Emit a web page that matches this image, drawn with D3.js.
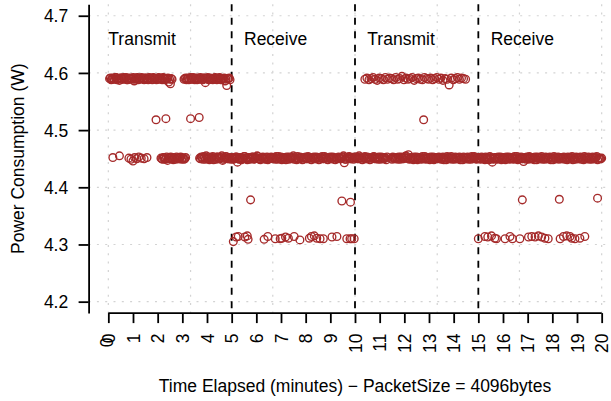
<!DOCTYPE html>
<html>
<head>
<meta charset="utf-8">
<script src="https://cdn.jsdelivr.net/npm/d3@7"></script>
<style>
  html, body { margin: 0; padding: 0; background: #fff; }
  svg { display: block; }
</style>
</head>
<body>
<svg id="chart" width="611" height="401"></svg>
<script>
// Power readings: [seconds elapsed, watts]
// Idle / baseline level (~4.45 W), even-slot samples
const idleReadings = [
  [11,4.452],[27,4.455],[50,4.451],[55,4.449],[60,4.446],[64,4.452],[69,4.450],[74,4.453],[80,4.451],[87,4.450],[94,4.452],
  [128,4.451],[132,4.449],[136,4.452],[140,4.450],[144,4.447],[148,4.451],[152,4.453],[156,4.450],[160,4.452],[164,4.449],[168,4.451],[172,4.450],[176,4.453],[180,4.451],[184,4.449],[188,4.452],
  [222,4.451],[226,4.453],[230,4.449],[234,4.452],[238,4.455],[242,4.450],[246,4.448],[250,4.452],[254,4.454],[258,4.451],[262,4.449],[266,4.453],[270,4.450],[274,4.452],[278,4.447],[282,4.451],[286,4.454],[290,4.450],[294,4.452],[298,4.449],
  [302,4.451],[306,4.450],[310,4.453],[314,4.444],[318,4.449],[322,4.452],[326,4.450],[330,4.454],[334,4.451],[338,4.448],[342,4.452],[346,4.450],[350,4.453],[354,4.449],[358,4.451],[362,4.455],[366,4.450],[370,4.448],[374,4.452],[378,4.451],[382,4.449],[386,4.453],[390,4.450],[394,4.452],[398,4.451],
  [402,4.452],[406,4.449],[410,4.451],[414,4.454],[418,4.450],[422,4.448],[426,4.452],[430,4.451],[434,4.453],[438,4.449],[442,4.450],[446,4.452],[450,4.455],[454,4.451],[458,4.448],[462,4.450],[466,4.453],[470,4.451],[474,4.449],[478,4.452],[482,4.450],[486,4.454],[490,4.451],[494,4.448],[498,4.452],
  [502,4.450],[506,4.453],[510,4.451],[514,4.449],[518,4.452],[522,4.450],[526,4.454],[530,4.451],[534,4.448],[538,4.452],[542,4.450],[546,4.453],[550,4.449],[554,4.451],[558,4.450],[562,4.452],[566,4.450],[570,4.453],[574,4.443],[578,4.449],[582,4.452],[586,4.454],[590,4.450],[594,4.451],[598,4.453],
  [602,4.452],[606,4.450],[610,4.455],[614,4.451],[618,4.448],[622,4.452],[626,4.450],[630,4.453],[634,4.451],[638,4.449],[642,4.452],[646,4.454],[650,4.450],[654,4.451],[658,4.453],[662,4.449],[666,4.452],[670,4.450],[674,4.451],[678,4.453],[690,4.449],[694,4.452],[698,4.450],
  [702,4.451],[706,4.453],[710,4.449],[714,4.452],[718,4.450],[722,4.454],[726,4.451],[730,4.457],[734,4.450],[738,4.452],[742,4.448],[746,4.451],[750,4.453],[754,4.450],[758,4.452],[762,4.449],[766,4.451],[770,4.454],[774,4.450],[778,4.452],[782,4.448],[786,4.451],[790,4.453],[794,4.450],[798,4.452],
  [802,4.450],[806,4.452],[810,4.449],[814,4.453],[818,4.451],[822,4.448],[826,4.452],[830,4.450],[834,4.454],[838,4.451],[842,4.449],[846,4.452],[850,4.450],[854,4.453],[858,4.451],[862,4.448],[866,4.452],[870,4.450],[874,4.453],[878,4.451],[882,4.449],[886,4.452],[890,4.454],[894,4.450],[898,4.451],
  [902,4.451],[906,4.449],[910,4.452],[914,4.450],[918,4.453],[922,4.451],[926,4.448],[930,4.452],[934,4.444],[938,4.450],[942,4.452],[946,4.449],[950,4.451],[954,4.453],[958,4.450],[962,4.452],[966,4.448],[970,4.451],[974,4.453],[978,4.450],[982,4.452],[986,4.449],[990,4.451],[994,4.454],[998,4.450],
  [1002,4.452],[1006,4.450],[1010,4.445],[1014,4.451],[1018,4.453],[1022,4.449],[1026,4.452],[1030,4.450],[1034,4.451],[1038,4.453],[1042,4.448],[1046,4.452],[1050,4.450],[1054,4.454],[1058,4.451],[1062,4.449],[1066,4.452],[1070,4.450],[1074,4.453],[1078,4.451],[1082,4.448],[1086,4.452],[1090,4.450],[1094,4.453],[1098,4.451],
  [1102,4.450],[1106,4.452],[1110,4.449],[1114,4.451],[1118,4.453],[1122,4.450],[1126,4.452],[1130,4.448],[1134,4.451],[1138,4.453],[1142,4.450],[1146,4.452],[1150,4.449],[1154,4.451],[1158,4.454],[1162,4.450],[1166,4.452],[1170,4.449],[1174,4.451],[1178,4.453],[1182,4.450],[1186,4.452],[1190,4.448],[1194,4.451],[1198,4.450]
];

// Idle level, odd-slot samples
const idleReadingsB = [
  [130,4.450],[134,4.452],[138,4.449],[142,4.453],[146,4.451],[150,4.450],[154,4.452],[158,4.448],[162,4.451],[166,4.453],[170,4.450],[174,4.452],[178,4.449],[182,4.451],[186,4.450],
  [224,4.450],[228,4.452],[232,4.454],[236,4.449],[240,4.451],[244,4.453],[248,4.450],[252,4.452],[256,4.448],[260,4.451],[264,4.453],[268,4.450],[272,4.452],[276,4.455],[280,4.449],[284,4.451],[288,4.453],[292,4.450],[296,4.452],
  [300,4.452],[304,4.449],[308,4.451],[312,4.453],[316,4.450],[320,4.452],[324,4.448],[328,4.451],[332,4.454],[336,4.450],[340,4.452],[344,4.449],[348,4.451],[352,4.453],[356,4.450],[360,4.452],[364,4.454],[368,4.449],[372,4.451],[376,4.453],[380,4.450],[384,4.452],[388,4.448],[392,4.451],[396,4.453],
  [400,4.450],[404,4.452],[408,4.454],[412,4.449],[416,4.451],[420,4.453],[424,4.450],[428,4.452],[432,4.448],[436,4.451],[440,4.453],[444,4.450],[448,4.452],[452,4.449],[456,4.451],[460,4.454],[464,4.450],[468,4.452],[472,4.448],[476,4.451],[480,4.453],[484,4.450],[488,4.452],[492,4.449],[496,4.451],
  [500,4.453],[504,4.450],[508,4.452],[512,4.448],[516,4.451],[520,4.454],[524,4.450],[528,4.452],[532,4.449],[536,4.451],[540,4.453],[544,4.450],[548,4.452],[552,4.448],[556,4.451],[560,4.453],[564,4.450],[568,4.452],[572,4.455],[576,4.449],[580,4.451],[584,4.453],[588,4.450],[592,4.452],[596,4.449],
  [600,4.451],[604,4.453],[608,4.450],[612,4.452],[616,4.449],[620,4.451],[624,4.454],[628,4.450],[632,4.452],[636,4.448],[640,4.451],[644,4.453],[648,4.450],[652,4.452],[656,4.449],[660,4.451],[664,4.453],[668,4.450],[672,4.452],[676,4.448],[688,4.451],[692,4.453],[696,4.450],
  [700,4.452],[704,4.449],[708,4.451],[712,4.453],[716,4.450],[720,4.452],[724,4.455],[728,4.451],[732,4.449],[736,4.452],[740,4.450],[744,4.453],[748,4.451],[752,4.448],[756,4.452],[760,4.450],[764,4.454],[768,4.451],[772,4.449],[776,4.452],[780,4.450],[784,4.453],[788,4.451],[792,4.448],[796,4.452],
  [800,4.451],[804,4.453],[808,4.450],[812,4.452],[816,4.448],[820,4.451],[824,4.454],[828,4.450],[832,4.452],[836,4.449],[840,4.451],[844,4.453],[848,4.450],[852,4.452],[856,4.448],[860,4.451],[864,4.453],[868,4.450],[872,4.452],[876,4.449],[880,4.451],[884,4.454],[888,4.450],[892,4.452],[896,4.449],
  [900,4.452],[904,4.450],[908,4.453],[912,4.451],[916,4.448],[920,4.452],[924,4.450],[928,4.454],[932,4.451],[936,4.449],[940,4.452],[944,4.450],[948,4.453],[952,4.451],[956,4.448],[960,4.452],[964,4.450],[968,4.453],[972,4.451],[976,4.449],[980,4.452],[984,4.450],[988,4.454],[992,4.451],[996,4.448],
  [1000,4.451],[1004,4.453],[1008,4.450],[1012,4.452],[1016,4.449],[1020,4.451],[1024,4.454],[1028,4.450],[1032,4.452],[1036,4.448],[1040,4.451],[1044,4.453],[1048,4.450],[1052,4.452],[1056,4.449],[1060,4.451],[1064,4.453],[1068,4.450],[1072,4.452],[1076,4.448],[1080,4.451],[1084,4.454],[1088,4.450],[1092,4.452],[1096,4.449],
  [1100,4.452],[1104,4.450],[1108,4.453],[1112,4.451],[1116,4.448],[1120,4.452],[1124,4.450],[1128,4.454],[1132,4.451],[1136,4.449],[1140,4.452],[1144,4.450],[1148,4.453],[1152,4.451],[1156,4.448],[1160,4.452],[1164,4.450],[1168,4.453],[1172,4.451],[1176,4.449],[1180,4.452],[1184,4.450],[1188,4.454],[1192,4.451],[1196,4.450],[1200,4.451]
];

// Radio transmitting (~4.59 W)
const transmitReadings = [
  [3,4.590],[7,4.588],[11,4.591],[15,4.589],[19,4.592],[23,4.590],[27,4.587],[31,4.591],[35,4.589],[39,4.590],[43,4.592],[47,4.588],[51,4.590],[55,4.591],[59,4.589],[63,4.586],[67,4.590],[71,4.592],[75,4.589],[79,4.591],[83,4.590],[87,4.588],[91,4.591],[95,4.589],[99,4.592],[103,4.590],[107,4.588],[111,4.591],[115,4.590],[119,4.589],[123,4.592],[127,4.590],[131,4.588],[135,4.591],[139,4.589],[143,4.590],[147,4.584],[151,4.581],[155,4.589],
  [5,4.591],[9,4.589],[13,4.590],[17,4.592],[21,4.588],[25,4.590],[29,4.591],[33,4.589],[37,4.592],[41,4.590],[45,4.588],[49,4.591],[53,4.589],[57,4.590],[61,4.592],[65,4.589],[69,4.591],[73,4.588],[77,4.590],[81,4.592],[85,4.589],[89,4.591],[93,4.590],[97,4.588],[101,4.591],[105,4.589],[109,4.592],[113,4.590],[117,4.588],[121,4.591],[125,4.589],[129,4.590],[133,4.592],[137,4.588],[141,4.590],[145,4.591],[149,4.589],[153,4.590],
  [184,4.589],[188,4.591],[192,4.590],[196,4.588],[200,4.592],[204,4.589],[208,4.590],[212,4.591],[216,4.588],[220,4.590],[224,4.592],[228,4.589],[232,4.591],[236,4.583],[240,4.590],[244,4.588],[248,4.591],[252,4.589],[256,4.590],[260,4.592],[264,4.588],[268,4.590],[272,4.591],[276,4.589],[280,4.590],[284,4.586],[288,4.578],[292,4.590],[296,4.588],
  [186,4.590],[190,4.588],[194,4.591],[198,4.589],[202,4.590],[206,4.592],[210,4.588],[214,4.590],[218,4.591],[222,4.589],[226,4.590],[230,4.588],[234,4.591],[238,4.590],[242,4.592],[246,4.589],[250,4.590],[254,4.588],[258,4.591],[262,4.589],[266,4.590],[270,4.592],[274,4.588],[278,4.590],[282,4.591],[286,4.589],[290,4.590],[294,4.591],
  [624,4.589],[629,4.591],[634,4.588],[639,4.590],[644,4.592],[649,4.589],[654,4.587],[659,4.591],[664,4.590],[669,4.588],[674,4.592],[679,4.589],[684,4.591],[689,4.590],[694,4.588],[699,4.592],[704,4.589],[709,4.590],[714,4.594],[719,4.588],[724,4.591],[729,4.589],[734,4.590],[739,4.592],[744,4.587],[749,4.590],[754,4.591],[759,4.589],[764,4.588],[769,4.592],[774,4.590],[779,4.589],[784,4.591],[789,4.588],[794,4.590],[799,4.592],[804,4.589],[809,4.591],[814,4.587],[819,4.590],[824,4.589],[829,4.579],[834,4.591],[839,4.588],[844,4.590],[849,4.592],[854,4.589],[859,4.591],[864,4.590],[869,4.589]
];

// Radio receiving (~4.31 W)
const receiveReadings = [
  [304,4.305],[311,4.313],[316,4.314],[332,4.313],[338,4.315],[340,4.309],[379,4.309],[388,4.314],[406,4.310],[418,4.310],[422,4.311],[431,4.313],[438,4.311],[452,4.314],[466,4.308],[489,4.311],[494,4.314],[501,4.315],[507,4.311],[515,4.310],[523,4.310],[544,4.313],[556,4.314],[580,4.310],[588,4.310],[592,4.310],[598,4.310],
  [900,4.310],[916,4.314],[923,4.313],[932,4.315],[940,4.311],[944,4.310],[965,4.310],[977,4.314],[983,4.310],[1001,4.310],[1022,4.313],[1030,4.314],[1038,4.313],[1046,4.315],[1054,4.313],[1062,4.311],[1070,4.310],[1099,4.310],[1107,4.314],[1115,4.315],[1123,4.314],[1127,4.311],[1135,4.310],[1147,4.311],[1159,4.314]
];

// Transitional readings between levels
const transitionReadings = [
  [116,4.518],[140,4.520],[200,4.520],[221,4.522],[767,4.518],
  [346,4.378],[568,4.376],[589,4.374],[1007,4.378],[1097,4.379],[1190,4.381]
];

// Phase boundaries (seconds) and phase names
const phaseBoundaries = [300, 600, 900];
const phaseNames = ["Transmit", "Receive", "Transmit", "Receive"];
const phaseLabelAt = [0, 330, 630, 930];

// Axis ticks
const xTickMinutes = [0,1,2,3,4,5,6,7,8,9,10,11,12,13,14,15,16,17,18,19,20];
const yTicks = [4.2, 4.3, 4.4, 4.5, 4.6, 4.7];

const xTitle = "Time Elapsed (minutes) \u2212 PacketSize = 4096bytes";
const yTitle = "Power Consumption (W)";

const FONT = "'Liberation Sans', Arial, Helvetica, sans-serif";
const FS = 17.5;
const LINE = 20.4;
const POINT_COLOR = "#A52A2A";

const svg = d3.select("#chart");

// Plot region
const plotL = 88.6, plotR = 621.4, plotT = 4.3, plotB = 313.1;

const x = d3.scaleLinear().domain([-48, 1248]).range([plotL, plotR]);
const y = d3.scaleLinear().domain([4.18, 4.72]).range([plotB, plotT]);

// Dotted grid
const grid = svg.append("g")
  .attr("stroke", "#d3d3d3")
  .attr("stroke-width", 1.2)
  .attr("stroke-dasharray", "2,6.3");

grid.selectAll("line.v").data(x.ticks(6)).join("line")
  .attr("class", "v")
  .attr("x1", d => x(d)).attr("x2", d => x(d))
  .attr("y1", plotT).attr("y2", plotB);

grid.selectAll("line.h").data(yTicks).join("line")
  .attr("class", "h")
  .attr("x1", plotL).attr("x2", plotR)
  .attr("y1", d => y(d)).attr("y2", d => y(d));

// Phase separators
svg.append("g").selectAll("line").data(phaseBoundaries).join("line")
  .attr("x1", d => x(d)).attr("x2", d => x(d))
  .attr("y1", plotT).attr("y2", plotB)
  .attr("stroke", "#000")
  .attr("stroke-width", 1.8)
  .attr("stroke-dasharray", "7,6.5");

// Phase labels
svg.append("g").selectAll("text").data(phaseNames).join("text")
  .attr("x", (d, i) => x(phaseLabelAt[i]))
  .attr("y", y(4.66))
  .attr("dy", "0.35em")
  .attr("font-family", FONT)
  .attr("font-size", FS)
  .attr("fill", "#000")
  .text(d => d);

// Points
const allReadings = idleReadings.concat(idleReadingsB, transmitReadings, receiveReadings, transitionReadings);
svg.append("g").selectAll("circle").data(allReadings).join("circle")
  .attr("cx", d => x(d[0]))
  .attr("cy", d => y(d[1]))
  .attr("r", 3.85)
  .attr("fill", "none")
  .attr("stroke", POINT_COLOR)
  .attr("stroke-width", 1.35);

// Y axis
const yAxis = d3.axisLeft(y)
  .tickValues(yTicks)
  .tickSize(10)
  .tickSizeOuter(0)
  .tickPadding(LINE - 10)
  .tickFormat(d3.format(".1f"));

const gy = svg.append("g").attr("transform", `translate(${plotL},0)`).call(yAxis);
gy.select(".domain").attr("stroke-width", 1.8);
gy.selectAll(".tick line").attr("stroke-width", 1.8);
gy.selectAll(".tick text")
  .attr("font-family", FONT)
  .attr("font-size", FS)
  .attr("dy", "0.35em");

// X axis (seconds, labelled in minutes)
const xAxis = d3.axisBottom(x)
  .tickValues(xTickMinutes.map(m => m * 60))
  .tickSize(10)
  .tickSizeOuter(0)
  .tickFormat(d => String(d / 60));

const gx = svg.append("g").attr("transform", `translate(0,${plotB})`).call(xAxis);
gx.select(".domain").remove();
gx.append("line")
  .attr("x1", x(0)).attr("x2", x(1200))
  .attr("stroke", "#000").attr("stroke-width", 1.8);
gx.selectAll(".tick line").attr("stroke-width", 1.8);
gx.selectAll(".tick text")
  .attr("font-family", FONT)
  .attr("font-size", FS)
  .attr("transform", "rotate(-90)")
  .attr("text-anchor", "end")
  .attr("x", -LINE)
  .attr("y", 0)
  .attr("dy", "0.35em");

// Second label drawn at the origin tick
gx.append("text")
  .attr("transform", `translate(${x(0) - 1},0) rotate(-90)`)
  .attr("text-anchor", "end")
  .attr("x", -LINE - 4)
  .attr("dy", "0.35em")
  .attr("font-family", FONT)
  .attr("font-size", FS)
  .attr("fill", "#000")
  .text("0");

// Axis titles
svg.append("text")
  .attr("x", (plotL + plotR) / 2)
  .attr("y", 392)
  .attr("text-anchor", "middle")
  .attr("font-family", FONT)
  .attr("font-size", FS)
  .text(xTitle);

svg.append("text")
  .attr("transform", `translate(24,${(plotT + plotB) / 2}) rotate(-90)`)
  .attr("text-anchor", "middle")
  .attr("font-family", FONT)
  .attr("font-size", FS)
  .text(yTitle);
</script>
</body>
</html>
